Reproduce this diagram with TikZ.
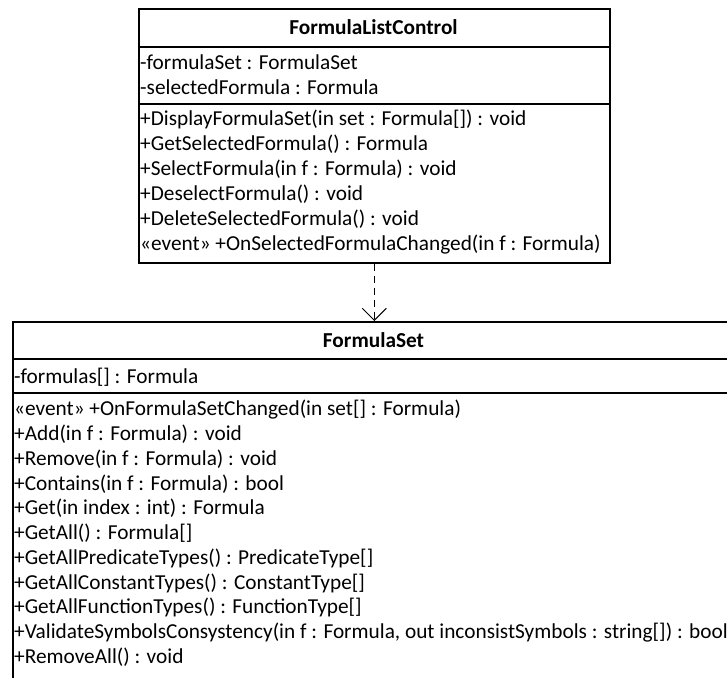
\documentclass[tikz,border=0pt]{standalone}
\usepackage{fontspec}
\setmainfont{Carlito}
\usetikzlibrary{arrows.meta}
\begin{document}
\begin{tikzpicture}[x=1pt,y=-1pt,
  classbox/.style={draw=black,line width=1.6pt,rectangle,inner sep=0pt,anchor=north west},
  sepline/.style={draw=black,line width=1.4pt},
  member/.style={anchor=base west,inner sep=0pt,font=\fontsize{21.3}{25}\selectfont},
  title/.style={anchor=base,inner sep=0pt,font=\fontsize{21.3}{25}\selectfont\bfseries},
  dep/.style={draw=black,line width=1pt,dash pattern=on 7pt off 5pt,
    -{Straight Barb[length=12pt,width=24pt,line width=1pt]}}]
\useasboundingbox (0,0) rectangle (727,677);

% FormulaListControl
\node[classbox,minimum width=471pt,minimum height=254pt] (flc) at (138,8) {};
\draw[sepline] (138,47) -- (609,47);
\draw[sepline] (138,104) -- (609,104);
\node[title] (flct) at (373.5,35) {FormulaListControl};
\node[member] (flca1) at (140,69) {-formulaSet : FormulaSet};
\node[member] (flca2) at (140,94) {-selectedFormula : Formula};
\node[member] (flcm1) at (140,125) {+DisplayFormulaSet(in set : Formula[]) : void};
\node[member] (flcm2) at (140,150) {+GetSelectedFormula() : Formula};
\node[member] (flcm3) at (140,175) {+SelectFormula(in f : Formula) : void};
\node[member] (flcm4) at (140,200) {+DeselectFormula() : void};
\node[member] (flcm5) at (140,225) {+DeleteSelectedFormula() : void};
\node[member] (flcm6) at (140,250) {«event» +OnSelectedFormulaChanged(in f : Formula)};

% FormulaSet
\node[classbox,minimum width=723pt,minimum height=370pt] (fs) at (12,321) {};
\draw[sepline] (12,359) -- (735,359);
\draw[sepline] (12,393) -- (735,393);
\node[title] (fst) at (373.5,347) {FormulaSet};
\node[member] (fsa1) at (14,383) {-formulas[] : Formula};
\node[member] (fsm1) at (14,415) {«event» +OnFormulaSetChanged(in set[] : Formula)};
\node[member] (fsm2) at (14,440) {+Add(in f : Formula) : void};
\node[member] (fsm3) at (14,465) {+Remove(in f : Formula) : void};
\node[member] (fsm4) at (14,490) {+Contains(in f : Formula) : bool};
\node[member] (fsm5) at (14,514) {+Get(in index : int) : Formula};
\node[member] (fsm6) at (14,539) {+GetAll() : Formula[]};
\node[member] (fsm7) at (14,564) {+GetAllPredicateTypes() : PredicateType[]};
\node[member] (fsm8) at (14,589) {+GetAllConstantTypes() : ConstantType[]};
\node[member] (fsm9) at (14,613) {+GetAllFunctionTypes() : FunctionType[]};
\node[member] (fsm10) at (14,638) {+ValidateSymbolsConsystency(in f : Formula, out inconsistSymbols : string[]) : bool};
\node[member] (fsm11) at (14,663) {+RemoveAll() : void};

% dependency
\draw[dep] (flc.south) -- (flc.south |- fs.north);
\end{tikzpicture}
\end{document}
